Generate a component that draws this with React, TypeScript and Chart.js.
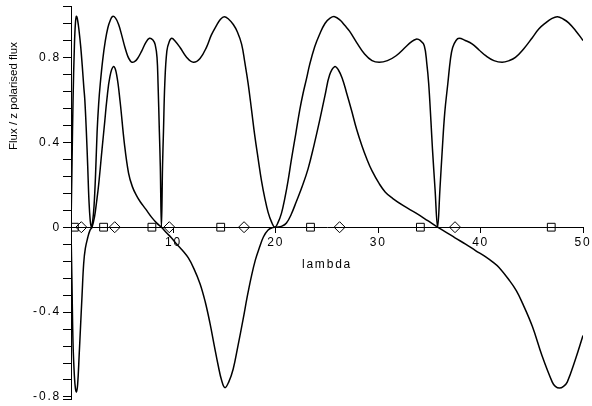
import React, { useEffect, useRef } from 'react';
import { Chart, registerables } from 'chart.js';

Chart.register(...registerables);

// Flux curve (upper)
const fluxLambda = [
  0, 0.1, 0.2, 0.33, 0.43, 0.53, 0.65, 0.8, 0.95, 1.1, 1.25, 1.35, 1.5, 1.63, 1.75, 1.88, 2.0,
  2.12, 2.25, 2.4, 2.55, 2.7, 2.86, 3.1, 3.35, 3.6, 3.84, 4.06, 4.35, 4.65, 4.95, 5.25, 5.55,
  5.8, 5.95, 6.2, 6.5, 6.9, 7.3, 7.66, 8.0, 8.22, 8.4, 8.5, 8.63, 8.72, 8.83, 8.94, 9.03, 9.16,
  9.36, 9.6, 9.84, 10.2, 10.65, 11.3, 11.95, 12.6, 13.25, 13.7, 14.2, 14.6, 14.97, 15.4, 15.85,
  16.25, 16.66, 16.98, 17.3, 17.63, 17.95, 18.28, 18.6, 18.93, 19.25, 19.58, 19.9, 20.2, 20.55,
  20.88, 21.2, 21.53, 21.95, 22.34, 22.66, 23.0, 23.3, 23.8, 24.28, 24.8, 25.3, 25.75, 26.3,
  26.75, 27.2, 27.9, 28.67, 29.4, 30.1, 30.9, 31.75, 32.7, 33.2, 33.7, 34.1, 34.5, 34.75, 34.93,
  35.15, 35.3, 35.55, 35.8, 36.03, 36.26, 36.5, 36.8, 37.05, 37.27, 37.6, 37.9, 38.5, 39.2,
  39.85, 40.5, 41.3, 42.1, 42.8, 43.4, 44.2, 45.05, 45.7, 46.36, 46.9, 47.5, 48.1, 48.6, 49.3,
  50,
];
const fluxValues = [
  0, 0.3, 0.6, 0.85, 0.96, 0.994, 0.975, 0.92, 0.85, 0.76, 0.66, 0.6, 0.45, 0.29, 0.13, 0.03, 0,
  0.03, 0.1, 0.25, 0.45, 0.58, 0.677, 0.79, 0.878, 0.94, 0.975, 0.993, 0.985, 0.955, 0.905,
  0.85, 0.805, 0.783, 0.777, 0.78, 0.795, 0.83, 0.87, 0.89, 0.882, 0.86, 0.8, 0.677, 0.45, 0.29,
  0, 0.29, 0.45, 0.677, 0.83, 0.875, 0.89, 0.875, 0.847, 0.8, 0.777, 0.795, 0.85, 0.905, 0.95,
  0.98, 0.992, 0.98, 0.955, 0.92, 0.863, 0.775, 0.677, 0.553, 0.43, 0.321, 0.22, 0.136, 0.07,
  0.025, 0, 0.02, 0.065, 0.136, 0.22, 0.321, 0.44, 0.553, 0.63, 0.7, 0.765, 0.85, 0.909, 0.96,
  0.985, 0.992, 0.975, 0.95, 0.924, 0.87, 0.816, 0.785, 0.777, 0.785, 0.808, 0.85, 0.872, 0.886,
  0.88, 0.855, 0.77, 0.677, 0.5, 0.368, 0.18, 0, 0.18, 0.368, 0.54, 0.677, 0.79, 0.847, 0.88,
  0.89, 0.88, 0.863, 0.835, 0.808, 0.785, 0.777, 0.785, 0.8, 0.84, 0.893, 0.935, 0.963, 0.982,
  0.992, 0.98, 0.963, 0.925, 0.88,
];

// z polarised flux curve
const zLambda = [
  0, 0.1, 0.2, 0.33, 0.43, 0.53, 0.65, 0.8, 0.92, 1.08, 1.24, 1.4, 1.63, 1.85, 2.05, 2.3, 2.5,
  2.7, 3.03, 3.3, 3.5, 3.8, 4.16, 4.45, 4.8, 5.2, 5.62, 6.0, 6.44, 6.76, 7.3, 7.9, 8.4, 8.83,
  9.3, 9.8, 10.33, 10.9, 11.46, 12.0, 12.6, 13.1, 13.57, 14.0, 14.38, 14.7, 15.03, 15.4, 15.84,
  16.3, 16.8, 17.2, 17.6, 18.0, 18.4, 18.8, 19.25, 19.7, 20.07, 20.6, 21.04, 21.5, 22.0, 22.6,
  23.15, 23.7, 24.3, 24.8, 25.26, 25.75, 26.1, 26.5, 26.9, 27.4, 27.9, 28.4, 28.9, 29.4, 30.1,
  30.7, 31.4, 32.5, 33.7, 34.8, 35.8, 36.6, 37.5, 38.57, 39.5, 40.5, 41.2, 41.8, 42.8, 43.5,
  44.1, 45.05, 46.0, 47.0, 47.3, 47.7, 48.1, 48.46, 49.28, 50,
];
const zValues = [
  0, -0.28, -0.55, -0.7, -0.76, -0.776, -0.74, -0.6, -0.48, -0.32, -0.17, -0.1, -0.05, -0.015,
  0, 0.05, 0.12, 0.2, 0.367, 0.5, 0.6, 0.71, 0.757, 0.72, 0.59, 0.4, 0.255, 0.19, 0.145, 0.12,
  0.085, 0.045, 0.018, 0, -0.025, -0.05, -0.08, -0.11, -0.145, -0.195, -0.266, -0.35, -0.452,
  -0.56, -0.653, -0.72, -0.756, -0.73, -0.668, -0.56, -0.436, -0.33, -0.235, -0.155, -0.096,
  -0.045, -0.013, -0.002, 0, 0.005, 0.02, 0.06, 0.12, 0.195, 0.275, 0.38, 0.507, 0.62, 0.718,
  0.757, 0.742, 0.7, 0.635, 0.55, 0.46, 0.385, 0.32, 0.265, 0.205, 0.165, 0.136, 0.1, 0.066,
  0.032, 0, -0.023, -0.05, -0.081, -0.11, -0.14, -0.165, -0.19, -0.25, -0.3, -0.359, -0.467,
  -0.606, -0.73, -0.75, -0.758, -0.75, -0.73, -0.62, -0.51,
];

// Markers on the zero line
const squareLambda = [0.33, 3.18, 7.9, 14.62, 23.39, 34.12, 46.9];
const diamondLambda = [1.01, 4.27, 9.6, 16.9, 26.23, 37.5];

// Axes
const xTickValues = [0, 10, 20, 30, 40, 50];
const xTickLabels = ['', '10', '20', '30', '40', '50'];
const yTickValues = [
  -0.812, -0.8, -0.72, -0.64, -0.56, -0.48, -0.4, -0.32, -0.24, -0.16, -0.08, 0, 0.08, 0.16,
  0.24, 0.32, 0.4, 0.48, 0.56, 0.64, 0.72, 0.8, 0.88, 0.96, 1.04,
];
const yLabelValues = [-0.8, -0.4, 0, 0.4, 0.8];
const yLabelTexts = ['-0.8', '-0.4', '0', '0.4', '0.8'];
const xTitle = 'lambda';
const yTitle = 'Flux / z polarised flux';

const FONT = 'Arial, "Liberation Sans", sans-serif';

export default function App() {
  const canvasRef = useRef<HTMLCanvasElement | null>(null);

  useEffect(() => {
    const canvas = canvasRef.current;
    if (!canvas) return;

    const spacingPlugin = {
      id: 'spacingPlugin',
      beforeUpdate(chart: any) {
        chart.ctx.letterSpacing = '1.8px';
      },
      beforeDraw(chart: any) {
        chart.ctx.letterSpacing = '1.8px';
      },
      afterDraw(chart: any) {
        const ctx = chart.ctx;
        ctx.save();
        ctx.letterSpacing = '0px';
        ctx.translate(14, 96);
        ctx.rotate(-Math.PI / 2);
        ctx.font = '11.5px ' + FONT;
        ctx.fillStyle = '#000';
        ctx.textAlign = 'center';
        ctx.textBaseline = 'middle';
        ctx.fillText(yTitle, 0, 0);
        ctx.restore();
      },
    };

    const chart = new Chart(canvas, {
      type: 'scatter',
      data: {
        datasets: [
          {
            label: 'Flux',
            data: fluxLambda.map((x, i) => ({ x, y: fluxValues[i] })),
            showLine: true,
            borderColor: '#000',
            borderWidth: 1.5,
            pointRadius: 0,
            tension: 0.4,
          },
          {
            label: 'z polarised flux',
            data: zLambda.map((x, i) => ({ x, y: zValues[i] })),
            showLine: true,
            borderColor: '#000',
            borderWidth: 1.5,
            pointRadius: 0,
            tension: 0.4,
          },
          {
            label: 'squares',
            data: squareLambda.map((x) => ({ x, y: 0 })),
            showLine: false,
            pointStyle: 'rect',
            pointRadius: 5.5,
            borderColor: '#000',
            borderWidth: 1,
            backgroundColor: 'rgba(0,0,0,0)',
          },
          {
            label: 'diamonds',
            data: diamondLambda.map((x) => ({ x, y: 0 })),
            showLine: false,
            pointStyle: 'rectRot',
            pointRadius: 5.5,
            borderColor: '#000',
            borderWidth: 1,
            backgroundColor: 'rgba(0,0,0,0)',
          },
        ],
      } as any,
      options: {
        responsive: false,
        animation: false,
        devicePixelRatio: 1,
        layout: { padding: { left: 0, right: 9, top: 5, bottom: 1.6 } },
        plugins: {
          legend: { display: false },
          tooltip: { enabled: false },
        },
        scales: {
          x: {
            type: 'linear',
            min: 0,
            max: 50,
            position: { y: 0 } as any,
            afterBuildTicks: (axis: any) => {
              axis.ticks = xTickValues.map((v) => ({ value: v }));
            },
            afterFit: (axis: any) => {
              axis.paddingLeft = 0;
              axis.paddingRight = 0;
            },
            ticks: {
              color: '#000',
              padding: 3,
              maxRotation: 0,
              autoSkip: false,
              font: { family: FONT, size: 12 },
              callback: (value: any) => {
                const idx = xTickValues.indexOf(Number(value));
                return idx >= 0 ? xTickLabels[idx] : '';
              },
            },
            grid: { drawOnChartArea: false, drawTicks: true, tickLength: 5, color: '#000' },
            border: { display: true, color: '#000', width: 1 },
            title: {
              display: true,
              text: xTitle,
              color: '#000',
              font: { family: FONT, size: 12 },
              padding: { top: 5, bottom: 0 },
            },
          },
          y: {
            type: 'linear',
            min: -0.812,
            max: 1.04,
            position: 'left',
            afterBuildTicks: (axis: any) => {
              axis.ticks = yTickValues.map((v) => ({ value: v }));
            },
            afterFit: (axis: any) => {
              axis.width = 71;
              axis.paddingTop = 0;
              axis.paddingBottom = 0;
            },
            ticks: {
              color: '#000',
              padding: 2,
              autoSkip: false,
              font: { family: FONT, size: 12 },
              callback: (value: any) => {
                const v = Number(value);
                const idx = yLabelValues.findIndex((t) => Math.abs(t - v) < 1e-6);
                return idx >= 0 ? yLabelTexts[idx] : '';
              },
            },
            grid: { drawOnChartArea: false, drawTicks: true, tickLength: 8, color: '#000' },
            border: { display: true, color: '#000', width: 1 },
          },
        },
      } as any,
      plugins: [spacingPlugin],
    });

    return () => {
      chart.destroy();
    };
  }, []);

  return (
    <div style={{ position: 'fixed', left: 0, top: 0, width: 592, height: 406, background: '#fff' }}>
      <canvas ref={canvasRef} width={592} height={406} style={{ display: 'block' }} />
    </div>
  );
}
